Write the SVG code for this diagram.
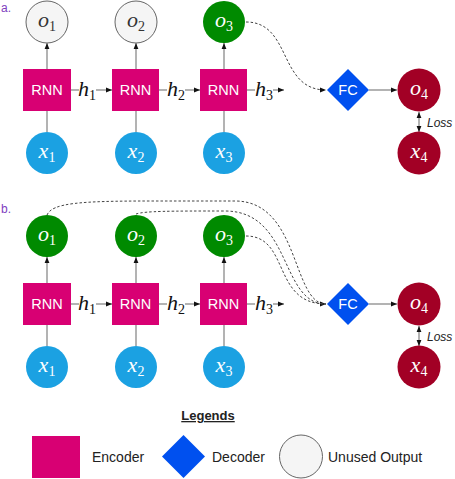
<svg xmlns="http://www.w3.org/2000/svg" width="455" height="479" viewBox="0 0 455 479">
<defs>
<style>
.rnn{fill:#d80073}
.fc{fill:#0050ef}
.used{fill:#008a00}
.out{fill:#a20025}
.inp{fill:#1ba1e2}
.unused{fill:#f5f5f5;stroke:#666;stroke-width:1}
.lbl{font-family:"Liberation Sans",Arial,sans-serif;font-size:14.5px;fill:#fff;text-anchor:middle}
.math{font-family:"Liberation Serif","Times New Roman",serif;font-size:22px;text-anchor:middle}
.mw{fill:#fff}
.md{fill:#333}
.mb{fill:#111}
.sub{font-size:14px;font-style:normal}
.it{font-style:italic}
.ln{stroke:#8a8a8a;stroke-width:1.3;fill:none}
.dash{stroke:#444;stroke-width:1;fill:none;stroke-dasharray:2.5 2}
.tag{font-family:"Liberation Sans",Arial,sans-serif;font-size:12px;fill:#8040c0}
.leg{font-family:"Liberation Sans",Arial,sans-serif;font-size:14px;fill:#222}
.loss{font-family:"Liberation Sans",Arial,sans-serif;font-size:12px;font-style:italic;fill:#222}
</style>
<marker id="ah" viewBox="0 0 10 10" refX="10" refY="5" markerWidth="6" markerHeight="6" orient="auto" markerUnits="userSpaceOnUse">
<path d="M0,1 L10,5 L0,9 z" fill="#111"/>
</marker>
<marker id="ahs" viewBox="0 0 10 10" refX="0" refY="5" markerWidth="6" markerHeight="6" orient="auto" markerUnits="userSpaceOnUse">
<path d="M10,1 L0,5 L10,9 z" fill="#111"/>
</marker>
</defs>
<rect width="455" height="479" fill="#fff"/>

<text class="tag" x="1" y="12">a.</text>
<text class="tag" x="1" y="213">b.</text>

<g id="connectors">
<!-- part a -->
<line class="ln" x1="47" y1="132" x2="47" y2="111"/>
<line class="ln" x1="136" y1="132" x2="136" y2="111"/>
<line class="ln" x1="224" y1="132" x2="224" y2="111"/>
<line class="ln" x1="47" y1="69" x2="47" y2="43" marker-end="url(#ah)"/>
<line class="ln" x1="136" y1="69" x2="136" y2="43" marker-end="url(#ah)"/>
<line class="ln" x1="224" y1="69" x2="224" y2="43" marker-end="url(#ah)"/>
<line class="ln" x1="71" y1="90" x2="79" y2="90"/>
<line class="ln" x1="96" y1="90" x2="112" y2="90" marker-end="url(#ah)"/>
<line class="ln" x1="159" y1="90" x2="167" y2="90"/>
<line class="ln" x1="185" y1="90" x2="200" y2="90" marker-end="url(#ah)"/>
<line class="ln" x1="247" y1="90" x2="255" y2="90"/>
<line class="ln" x1="273" y1="90" x2="284" y2="90" marker-end="url(#ah)"/>
<path class="dash" d="M246,22 C292,22 278,90 326,90" marker-end="url(#ah)"/>
<line class="ln" x1="369" y1="90" x2="397" y2="90" marker-end="url(#ah)"/>
<line class="ln" x1="419" y1="112" x2="419" y2="132" marker-start="url(#ahs)" marker-end="url(#ah)"/>
<!-- part b -->
<line class="ln" x1="47" y1="346" x2="47" y2="325"/>
<line class="ln" x1="136" y1="346" x2="136" y2="325"/>
<line class="ln" x1="224" y1="346" x2="224" y2="325"/>
<line class="ln" x1="47" y1="283" x2="47" y2="257" marker-end="url(#ah)"/>
<line class="ln" x1="136" y1="283" x2="136" y2="257" marker-end="url(#ah)"/>
<line class="ln" x1="224" y1="283" x2="224" y2="257" marker-end="url(#ah)"/>
<line class="ln" x1="71" y1="304" x2="79" y2="304"/>
<line class="ln" x1="96" y1="304" x2="112" y2="304" marker-end="url(#ah)"/>
<line class="ln" x1="159" y1="304" x2="167" y2="304"/>
<line class="ln" x1="185" y1="304" x2="200" y2="304" marker-end="url(#ah)"/>
<line class="ln" x1="247" y1="304" x2="255" y2="304"/>
<line class="ln" x1="273" y1="304" x2="284" y2="304" marker-end="url(#ah)"/>
<path class="dash" d="M47,215 C52,203 80,201 150,201 L235,201 C300,201 292,304 326,304" marker-end="url(#ah)"/>
<path class="dash" d="M136,214 C145,211 170,211 225,211 C292,211 280,304 326,304"/>
<path class="dash" d="M246,236 C290,236 272,304 326,304"/>
<line class="ln" x1="369" y1="304" x2="397" y2="304" marker-end="url(#ah)"/>
<line class="ln" x1="419" y1="326" x2="419" y2="346" marker-start="url(#ahs)" marker-end="url(#ah)"/>
</g>

<g id="edge-labels">
<text class="math mb" x="87" y="96"><tspan class="it">h</tspan><tspan class="sub" dy="4">1</tspan></text>
<text class="math mb" x="176" y="96"><tspan class="it">h</tspan><tspan class="sub" dy="4">2</tspan></text>
<text class="math mb" x="264" y="96"><tspan class="it">h</tspan><tspan class="sub" dy="4">3</tspan></text>
<text class="math mb" x="87" y="310"><tspan class="it">h</tspan><tspan class="sub" dy="4">1</tspan></text>
<text class="math mb" x="176" y="310"><tspan class="it">h</tspan><tspan class="sub" dy="4">2</tspan></text>
<text class="math mb" x="264" y="310"><tspan class="it">h</tspan><tspan class="sub" dy="4">3</tspan></text>
<text class="loss" x="427" y="127">Loss</text>
<text class="loss" x="427" y="341">Loss</text>
</g>

<g id="a-o1"><circle class="unused" cx="47" cy="22" r="21"/><text class="math md" x="47" y="27"><tspan class="it">o</tspan><tspan class="sub" dy="4">1</tspan></text></g>
<g id="a-o2"><circle class="unused" cx="136" cy="22" r="21"/><text class="math md" x="136" y="27"><tspan class="it">o</tspan><tspan class="sub" dy="4">2</tspan></text></g>
<g id="a-o3"><circle class="used" cx="224" cy="22" r="21"/><text class="math mw" x="224" y="27"><tspan class="it">o</tspan><tspan class="sub" dy="4">3</tspan></text></g>
<g id="a-rnn1"><rect class="rnn" x="23" y="69" width="48" height="42"/><text class="lbl" x="47" y="95">RNN</text></g>
<g id="a-rnn2"><rect class="rnn" x="112" y="69" width="47" height="42"/><text class="lbl" x="135.5" y="95">RNN</text></g>
<g id="a-rnn3"><rect class="rnn" x="200" y="69" width="47" height="42"/><text class="lbl" x="223.5" y="95">RNN</text></g>
<g id="a-x1"><circle class="inp" cx="47" cy="153" r="21"/><text class="math mw" x="47" y="158"><tspan class="it">x</tspan><tspan class="sub" dy="4">1</tspan></text></g>
<g id="a-x2"><circle class="inp" cx="136" cy="153" r="21"/><text class="math mw" x="136" y="158"><tspan class="it">x</tspan><tspan class="sub" dy="4">2</tspan></text></g>
<g id="a-x3"><circle class="inp" cx="224" cy="153" r="21"/><text class="math mw" x="224" y="158"><tspan class="it">x</tspan><tspan class="sub" dy="4">3</tspan></text></g>
<g id="a-fc"><path class="fc" d="M348,69 L369,90 L348,111 L327,90 z"/><text class="lbl" x="348" y="95">FC</text></g>
<g id="a-o4"><circle class="out" cx="419" cy="90" r="21.5"/><text class="math mw" x="419" y="95"><tspan class="it">o</tspan><tspan class="sub" dy="4">4</tspan></text></g>
<g id="a-x4"><circle class="out" cx="419" cy="153" r="21.5"/><text class="math mw" x="419" y="158"><tspan class="it">x</tspan><tspan class="sub" dy="4">4</tspan></text></g>

<g id="b-o1"><circle class="used" cx="47" cy="236" r="21"/><text class="math mw" x="47" y="241"><tspan class="it">o</tspan><tspan class="sub" dy="4">1</tspan></text></g>
<g id="b-o2"><circle class="used" cx="136" cy="236" r="21"/><text class="math mw" x="136" y="241"><tspan class="it">o</tspan><tspan class="sub" dy="4">2</tspan></text></g>
<g id="b-o3"><circle class="used" cx="224" cy="236" r="21"/><text class="math mw" x="224" y="241"><tspan class="it">o</tspan><tspan class="sub" dy="4">3</tspan></text></g>
<g id="b-rnn1"><rect class="rnn" x="23" y="283" width="48" height="42"/><text class="lbl" x="47" y="309">RNN</text></g>
<g id="b-rnn2"><rect class="rnn" x="112" y="283" width="47" height="42"/><text class="lbl" x="135.5" y="309">RNN</text></g>
<g id="b-rnn3"><rect class="rnn" x="200" y="283" width="47" height="42"/><text class="lbl" x="223.5" y="309">RNN</text></g>
<g id="b-x1"><circle class="inp" cx="47" cy="367" r="21"/><text class="math mw" x="47" y="372"><tspan class="it">x</tspan><tspan class="sub" dy="4">1</tspan></text></g>
<g id="b-x2"><circle class="inp" cx="136" cy="367" r="21"/><text class="math mw" x="136" y="372"><tspan class="it">x</tspan><tspan class="sub" dy="4">2</tspan></text></g>
<g id="b-x3"><circle class="inp" cx="224" cy="367" r="21"/><text class="math mw" x="224" y="372"><tspan class="it">x</tspan><tspan class="sub" dy="4">3</tspan></text></g>
<g id="b-fc"><path class="fc" d="M348,283 L369,304 L348,325 L327,304 z"/><text class="lbl" x="348" y="309">FC</text></g>
<g id="b-o4"><circle class="out" cx="419" cy="304" r="21.5"/><text class="math mw" x="419" y="309"><tspan class="it">o</tspan><tspan class="sub" dy="4">4</tspan></text></g>
<g id="b-x4"><circle class="out" cx="419" cy="367" r="21.5"/><text class="math mw" x="419" y="372"><tspan class="it">x</tspan><tspan class="sub" dy="4">4</tspan></text></g>

<g id="legend">
<text x="208" y="420" text-anchor="middle" style="font-family:'Liberation Sans',Arial,sans-serif;font-size:13px;font-weight:bold;fill:#222;text-decoration:underline">Legends</text>
<rect class="rnn" x="32" y="436" width="48" height="42"/>
<text class="leg" x="92" y="462">Encoder</text>
<path class="fc" d="M183.5,435 L205,456.5 L183.5,478 L162,456.5 z"/>
<text class="leg" x="212" y="462">Decoder</text>
<circle class="unused" cx="301" cy="456.5" r="21.5"/>
<text class="leg" x="328" y="462">Unused Output</text>
</g>
</svg>
